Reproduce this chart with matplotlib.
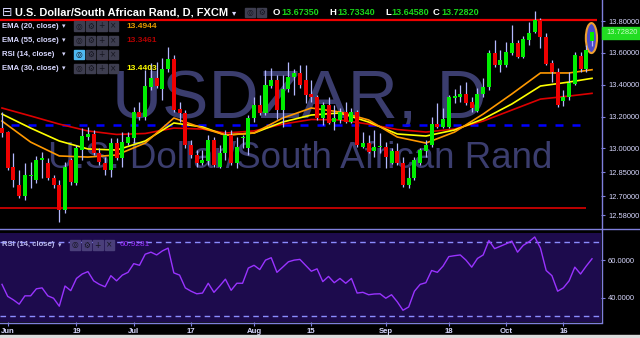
import numpy as np
import matplotlib
matplotlib.use("Agg")
import matplotlib.pyplot as plt
from matplotlib.patches import Rectangle, Ellipse
from matplotlib.lines import Line2D

plt.rcParams['font.family'] = ['Liberation Sans', 'DejaVu Sans']

# daily candles USD/ZAR, 31 May .. 24 Oct
opens = [13.128, 13.103, 12.884, 12.771, 12.702, 12.827, 12.802, 12.927, 12.909, 12.815,
         12.771, 12.614, 12.927, 12.783, 12.990, 13.072, 13.091, 12.971, 12.909, 12.865,
         13.034, 12.940, 13.034, 13.066, 13.229, 13.197, 13.386, 13.442, 13.373, 13.499,
         13.561, 13.248, 13.223, 13.022, 12.959, 12.909, 12.921, 13.053, 12.884, 12.971,
         13.084, 12.909, 13.066, 13.003, 13.191, 13.273, 13.223, 13.392, 13.430, 13.241,
         13.373, 13.448, 13.474, 13.430, 13.342, 13.323, 13.191, 13.273, 13.166, 13.179,
         13.229, 13.166, 13.229, 13.009, 13.034, 12.984, 13.009, 13.012, 12.909, 12.984,
         12.909, 12.771, 12.815, 12.909, 12.984, 13.022, 13.153, 13.135, 13.135, 13.317,
         13.323, 13.342, 13.291, 13.235, 13.342, 13.386, 13.599, 13.524, 13.524, 13.599,
         13.662, 13.574, 13.681, 13.731, 13.806, 13.700, 13.536, 13.480, 13.298, 13.323,
         13.405, 13.580, 13.499, 13.6735]
highs = [13.229, 13.110, 12.971, 12.865, 12.909, 12.915, 12.953, 12.978, 12.940, 12.833,
         12.802, 12.915, 12.940, 13.022, 13.128, 13.135, 13.116, 13.003, 12.946, 13.066,
         13.066, 13.103, 13.103, 13.260, 13.291, 13.492, 13.536, 13.543, 13.568, 13.637,
         13.587, 13.291, 13.241, 13.053, 12.990, 12.990, 13.084, 13.072, 13.022, 13.116,
         13.116, 13.072, 13.084, 13.210, 13.323, 13.335, 13.492, 13.505, 13.461, 13.461,
         13.543, 13.499, 13.524, 13.524, 13.430, 13.335, 13.291, 13.323, 13.273, 13.254,
         13.291, 13.254, 13.241, 13.103, 13.084, 13.116, 13.097, 13.040, 13.003, 13.034,
         12.946, 12.884, 12.946, 13.003, 13.053, 13.197, 13.285, 13.254, 13.335, 13.373,
         13.398, 13.417, 13.323, 13.379, 13.442, 13.618, 13.681, 13.618, 13.668, 13.775,
         13.681, 13.706, 13.794, 13.863, 13.819, 13.725, 13.555, 13.505, 13.367, 13.480,
         13.605, 13.605, 13.649, 13.7334]
lows = [13.072, 12.865, 12.758, 12.689, 12.676, 12.752, 12.783, 12.815, 12.802, 12.752,
        12.538, 12.595, 12.771, 12.771, 12.927, 13.053, 12.959, 12.896, 12.833, 12.821,
        12.927, 12.884, 13.022, 13.034, 13.179, 13.179, 13.367, 13.379, 13.304, 13.480,
        13.229, 13.166, 13.003, 12.940, 12.884, 12.896, 12.896, 12.884, 12.877, 12.927,
        12.896, 12.877, 13.003, 12.959, 13.166, 13.210, 13.210, 13.379, 13.185, 13.135,
        13.354, 13.335, 13.379, 13.285, 13.291, 13.179, 13.147, 13.153, 13.116, 13.160,
        13.160, 13.160, 13.009, 13.003, 12.971, 12.946, 12.971, 12.877, 12.902, 12.896,
        12.758, 12.752, 12.802, 12.896, 12.946, 13.009, 13.128, 13.128, 13.128, 13.285,
        13.291, 13.273, 13.229, 13.229, 13.323, 13.367, 13.511, 13.480, 13.511, 13.587,
        13.568, 13.568, 13.649, 13.725, 13.631, 13.524, 13.417, 13.260, 13.266, 13.304,
        13.398, 13.480, 13.480, 13.6458]
closes = [13.097, 12.877, 12.802, 12.702, 12.833, 12.835, 12.927, 12.940, 12.815, 12.771,
          12.614, 12.884, 12.789, 13.003, 13.078, 13.091, 12.971, 12.915, 12.865, 13.034,
          12.940, 13.040, 13.072, 13.229, 13.197, 13.392, 13.442, 13.392, 13.499, 13.561,
          13.241, 13.223, 13.022, 12.959, 12.909, 12.927, 13.053, 12.896, 12.971, 13.084,
          12.909, 13.009, 13.072, 13.191, 13.273, 13.223, 13.398, 13.430, 13.241, 13.373,
          13.448, 13.474, 13.398, 13.335, 13.323, 13.191, 13.273, 13.160, 13.191, 13.229,
          13.166, 13.229, 13.022, 13.034, 12.978, 13.009, 13.012, 12.946, 12.984, 12.909,
          12.771, 12.815, 12.927, 12.990, 13.022, 13.153, 13.135, 13.185, 13.323, 13.329,
          13.342, 13.285, 13.254, 13.342, 13.386, 13.599, 13.524, 13.555, 13.605, 13.662,
          13.574, 13.687, 13.725, 13.806, 13.700, 13.530, 13.480, 13.273, 13.323, 13.411,
          13.587, 13.499, 13.618, 13.7282]

# moving averages at a few candles
ema_idx = [0, 5, 10, 15, 20, 25, 30, 35, 39, 44, 49, 54, 59, 64, 69, 74, 79, 84, 89, 94, 99, 103]
ema20 = [13.172, 13.040, 12.953, 12.946, 12.959, 13.034, 13.191, 13.128, 13.084, 13.097, 13.191,
         13.254, 13.229, 13.179, 13.072, 13.034, 13.103, 13.216, 13.342, 13.474, 13.474, 13.4944]
ema30 = [13.216, 13.128, 13.047, 12.997, 12.990, 13.047, 13.160, 13.135, 13.084, 13.097, 13.166,
         13.210, 13.223, 13.166, 13.091, 13.078, 13.116, 13.185, 13.279, 13.392, 13.417, 13.4403]
ema55 = [13.254, 13.204, 13.153, 13.110, 13.088, 13.094, 13.128, 13.122, 13.097, 13.110, 13.153,
         13.182, 13.179, 13.153, 13.119, 13.103, 13.122, 13.172, 13.241, 13.310, 13.329, 13.3461]

rsi = [47.1, 40.6, 38.7, 36.4, 40.9, 40.9, 44.7, 45.2, 40.9, 39.6, 35.3, 46.2, 43.7, 50.3, 52.7,
       54.0, 49.0, 47.1, 45.8, 51.8, 49.0, 52.1, 53.6, 58.3, 57.4, 63.4, 64.5, 63.0, 65.2, 66.7,
       53.3, 52.1, 45.2, 43.4, 42.0, 42.4, 47.7, 42.8, 46.2, 49.9, 43.9, 47.7, 47.7, 55.9, 57.4,
       55.1, 60.2, 61.5, 53.6, 56.4, 59.3, 60.2, 60.6, 57.4, 54.2, 55.5, 48.6, 51.4, 48.0, 50.3,
       47.7, 50.3, 42.4, 42.8, 41.5, 41.9, 42.0, 39.6, 41.5, 37.7, 33.1, 34.9, 43.4, 47.1, 48.0,
       54.6, 53.6, 57.0, 62.1, 62.6, 63.0, 60.2, 56.4, 61.1, 63.0, 70.8, 66.4, 67.7, 69.0, 70.5,
       64.5, 68.2, 70.1, 72.7, 66.7, 54.6, 51.8, 43.4, 45.2, 49.0, 56.4, 52.7, 57.0, 60.93]

tick_idx = [1, 13, 23, 33, 44, 54, 67, 78, 88, 98]
tick_lab = ['Jun', '19', 'Jul', '17', 'Aug', '15', 'Sep', '18', 'Oct', '16']
price_ticks = [13.8, 13.6, 13.4, 13.2, 13.0, 12.85, 12.7, 12.58]
resistance = 13.808
support = 12.625
pivot = 13.147

W, H = 640, 338
fig = plt.figure(figsize=(6.4, 3.38), dpi=100, facecolor='black')

def fx(x):
    return x / W

def fy(y):
    return 1 - y / H

AXC = '#7f7fdc'
TXT = '#d8d8ff'
x0, x1 = -0.349, 104.57

ax = fig.add_axes([0, fy(226), fx(601), 226 / H])
ax.set_facecolor('black')
ax.set_xlim(x0, x1)
ax.set_ylim(12.5133, 13.932)
for s in ax.spines.values():
    s.set_visible(False)
ax.set_xticks([])
ax.yaxis.tick_right()
ax.set_yticks(price_ticks)
ax.set_yticklabels(['%.5f' % v for v in price_ticks])
ax.tick_params(axis='y', colors=AXC, labelcolor=TXT, labelsize=5.4, length=3, pad=2)

# watermark
ax.text(52, 13.191, 'USDZAR, D', ha='center', va='baseline', fontsize=50,
        color='#3b3d6e', zorder=0)
ax.text(52, 12.877, 'U.S. Dollar/South African Rand', ha='center', va='baseline',
        fontsize=26.5, color='#3b3d6e', zorder=0)

# levels
ax.hlines(resistance, x0, 103.9, color='#ee0000', lw=1.6, zorder=2)
ax.hlines(support, x0, 102.0, color='#cc0000', lw=1.3, zorder=2)
ax.hlines(pivot, 1.5, 102.0, color='#0000ff', lw=1.8, zorder=2,
          linestyles=(0, (3.2, 3.6)))

# emas
ax.plot(ema_idx, ema55, color='#dd0000', lw=1.2, zorder=3)
ax.plot(ema_idx, ema30, color='#ffff00', lw=1.2, zorder=3)
ax.plot(ema_idx, ema20, color='#ff9900', lw=1.2, zorder=3)

# highlight last bar
ax.add_patch(Ellipse((102.9, 13.693), 1.95, 0.188, facecolor='#4b4bc8',
                     edgecolor='#f0a030', lw=1.5, zorder=3))

# candles
idx = np.arange(len(closes))
o = np.array(opens)
c = np.array(closes)
up = c >= o
body = np.where(np.abs(c - o) < 0.008, 0.008, np.abs(c - o))
bottom = np.minimum(o, c)
ax.vlines(idx, lows, highs, color='#b4b8ff', lw=0.9, zorder=4)
ax.bar(idx, body, bottom=bottom, width=0.7,
       color=np.where(up, '#00ee00', '#ee0000'), zorder=5)

# rsi panel
rax = fig.add_axes([0, fy(322), fx(601), (322 - 233) / H])
rax.set_facecolor('#1d0b4d')
rax.set_xlim(x0, x1)
rax.set_ylim(26.76, 74.86)
for s in rax.spines.values():
    s.set_visible(False)
rax.plot(idx, rsi, color='#9933ff', lw=1.0, zorder=3)
rax.axhline(70, color='#8c8cff', lw=1.0, ls=(0, (4, 3)))
rax.axhline(30, color='#8c8cff', lw=1.0, ls=(0, (4, 3)))
rax.yaxis.tick_right()
rax.set_yticks([60, 40])
rax.set_yticklabels(['60.0000', '40.0000'])
rax.tick_params(axis='y', colors=AXC, labelcolor=TXT, labelsize=5.4, length=3, pad=2)
rax.set_xticks(tick_idx)
rax.set_xticklabels(tick_lab)
rax.tick_params(axis='x', colors=AXC, labelcolor=TXT, labelsize=5.6, length=3, pad=1)
for t in rax.get_xticklabels():
    t.set_fontweight('bold')

# frame lines
fig.add_artist(Line2D([fx(601.5), fx(601.5)], [fy(0), fy(322)], color=AXC, lw=1))
fig.add_artist(Line2D([0, 1], [fy(228.5), fy(228.5)], color=AXC, lw=1))
fig.add_artist(Line2D([0, fx(601.5)], [fy(322.5), fy(322.5)], color=AXC, lw=1))
fig.add_artist(Rectangle((0, 0), 1, 3.5 / H, transform=fig.transFigure,
                         color='#dcdcdc', zorder=1))

# last price tag
fig.add_artist(Rectangle((fx(602), fy(38.5)), fx(38), 11.5 / H, transform=fig.transFigure,
                         color='#22dd22', zorder=5))
fig.text(fx(606), fy(32.5), '13.72820', color='#c8ffc8', fontsize=5.4, va='center', zorder=6)

# header
fig.text(fx(2), fy(12.5), '\u229f', color=TXT, fontsize=9, va='center', family='DejaVu Sans')
fig.text(fx(15), fy(12.5), 'U.S. Dollar/South African Rand, D, FXCM', color='white',
         fontsize=7.9, fontweight='bold', va='center')
fig.text(fx(232), fy(12.5), '\u25be', color=TXT, fontsize=6, va='center', family='DejaVu Sans')


def icons(x, y, n=4, first=None, bg='#3e3e50'):
    glyphs = ['\u25ce', '\u2699', '+', '\u00d7']
    for k in range(n):
        col = first if (k == 0 and first) else bg
        fig.add_artist(Rectangle((fx(x + k * 11.5), fy(y + 4.5)), fx(9.5), 9.5 / H,
                                 transform=fig.transFigure, color=col, zorder=5))
        fig.text(fx(x + k * 11.5 + 4.75), fy(y), glyphs[k], color='#15151f', fontsize=5.5,
                 ha='center', va='center', family='DejaVu Sans', zorder=6)


icons(245, 12.5, n=2)
ohlc = [('O', 273, 281, '13.67350'), ('H', 329, 337, '13.73340'),
        ('L', 385, 391, '13.64580'), ('C', 433, 441, '13.72820')]
for lab, xl, xv, val in ohlc:
    fig.text(fx(xl), fy(12.5), lab, color='white', fontsize=6.8, fontweight='bold', va='center')
    fig.text(fx(xv), fy(12.5), val, color='#19d419', fontsize=6.5, fontweight='bold', va='center')

rows = [('EMA (20, close)', 26, '13.4944', '#e69a00', None),
        ('EMA (55, close)', 40.5, '13.3461', '#b30000', None),
        ('RSI (14, close)', 54.5, None, None, '#4fb8f0'),
        ('EMA (30, close)', 68.5, '13.4403', '#ffff00', None)]
for name, y, val, col, hl in rows:
    fig.text(fx(2), fy(y), name, color=TXT, fontsize=5.6, fontweight='bold', va='center')
    fig.text(fx(62), fy(y), '\u25be', color=TXT, fontsize=5, va='center', family='DejaVu Sans')
    icons(74, y, first=hl)
    if val:
        fig.text(fx(126), fy(y), val, color=col, fontsize=6, fontweight='bold', va='center')

fig.text(fx(2), fy(245), 'RSI (14, close)', color='#b8b8e8', fontsize=5.6,
         fontweight='bold', va='center')
fig.text(fx(58), fy(245), '\u25be', color='#b8b8e8', fontsize=5, va='center', family='DejaVu Sans')
icons(70, 245, bg='#4a3f7a')
fig.text(fx(120), fy(245), '60.9281', color='#9933ff', fontsize=6, va='center')

fig.savefig('out.png', dpi=100, facecolor='black')
